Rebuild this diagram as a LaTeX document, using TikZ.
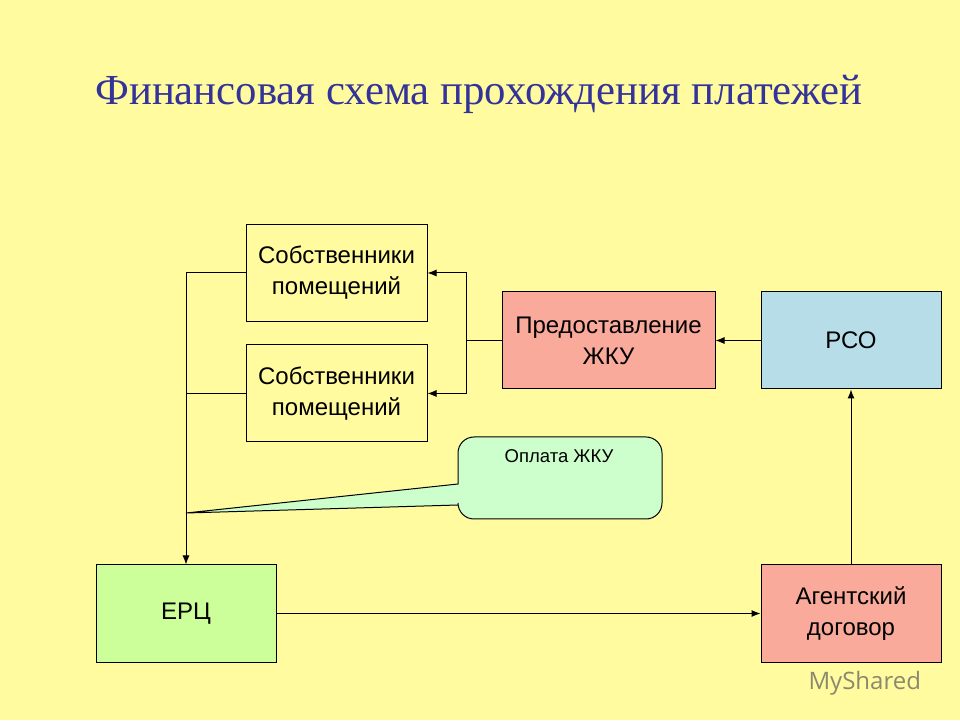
\documentclass[tikz,border=0pt]{standalone}
\usepackage{fontspec}
\setmainfont{Liberation Serif}
\newfontfamily\arial{Liberation Sans}
\newfontfamily\wmfont{Open Sans}
\usetikzlibrary{arrows.meta}
\definecolor{bg}{RGB}{255,251,158}
\definecolor{titleblue}{RGB}{51,51,153}
\definecolor{salmon}{RGB}{250,170,155}
\definecolor{lblue}{RGB}{183,222,232}
\definecolor{lgreen}{RGB}{204,255,153}
\definecolor{mint}{RGB}{204,255,204}
\tikzset{
  box/.style={draw=black, line width=1pt, minimum width=181pt, minimum height=97pt, inner sep=0pt, align=center, font=\arial\fontsize{24}{31}\selectfont},
  conn/.style={line width=1pt},
  arr/.style={line width=1pt, -{Latex[length=9pt,width=7pt]}}
}
\begin{document}
\begin{tikzpicture}[x=1pt,y=1pt]
\useasboundingbox (0,0) rectangle (960,720);
\fill[bg] (0,0) rectangle (960,720);
\node[text=titleblue, font=\fontsize{42.8}{50}\selectfont] (title) at (479,626) {Финансовая схема прохождения платежей};
\node[box] (s1) at (336.5,447) {Собственники\\помещений};
\node[box] (s2) at (336.5,326.5) {Собственники\\помещений};
\node[box, fill=salmon, minimum width=213pt] (zhku) at (608.5,379.5) {Предоставление\\ЖКУ};
\node[box, fill=lblue, minimum width=180pt] (rso) at (851,379.5) {РСО};
\node[box, fill=lgreen, minimum width=180pt] (erc) at (186,106.5) {ЕРЦ};
\node[box, fill=salmon, minimum width=180pt] (agent) at (851,106.5) {Агентский\\договор};
% callout
\draw[fill=mint, line width=1pt] (458,236) -- (186,207) -- (458,215) -- (458,201+16) arc[start angle=180,end angle=270,radius=16] -- (662-16,201) arc[start angle=270,end angle=360,radius=16] -- (662,283-16) arc[start angle=0,end angle=90,radius=16] -- (458+16,283) arc[start angle=90,end angle=180,radius=16] -- cycle;
\node[font=\arial\fontsize{18.5}{22}\selectfont] (opl) at (559,264) {Оплата ЖКУ};
% connectors
\coordinate (jl) at (186,447);
\coordinate (jl2) at (186,326.5);
\draw[conn] (s1.west) -- (jl);
\draw[conn] (s2.west) -- (jl2);
\draw[arr] (jl) -- (erc.north);
\coordinate (jr) at (466,379.5);
\coordinate (jr1) at (466,447);
\coordinate (jr2) at (466,326.5);
\draw[conn] (zhku.west) -- (jr);
\draw[arr] (jr) -- (jr1) -- (s1.east);
\draw[arr] (jr) -- (jr2) -- (s2.east);
\draw[arr] (rso.west) -- (zhku.east);
\draw[arr] (agent.north) -- (rso.south);
\draw[arr] (erc.east) -- (agent.west);
\node[text=gray!70!black, opacity=0.7, font=\wmfont\fontsize{24}{28}\selectfont, anchor=west] (wm) at (805,37) {MyShared};
\end{tikzpicture}
\end{document}
